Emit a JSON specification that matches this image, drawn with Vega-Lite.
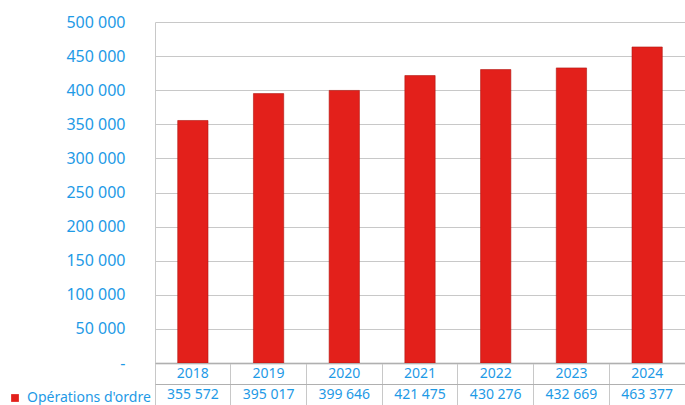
{
  "$schema": "https://vega.github.io/schema/vega-lite/v6.json",
  "padding": {"left": 8, "top": 14, "right": 0, "bottom": 0},
  "spacing": 0,
  "bounds": "flush",
  "config": {
    "font": "Noto Sans",
    "view": {"stroke": null},
    "locale": {"number": {"decimal": ",", "thousands": " ", "grouping": [3], "currency": ["", " €"]}}
  },
  "data": {
    "values": [
      {"annee": "2018", "valeur": 355572},
      {"annee": "2019", "valeur": 395017},
      {"annee": "2020", "valeur": 399646},
      {"annee": "2021", "valeur": 421475},
      {"annee": "2022", "valeur": 430276},
      {"annee": "2023", "valeur": 432669},
      {"annee": "2024", "valeur": 463377}
    ]
  },
  "vconcat": [
    {
      "width": 530,
      "height": 341,
      "mark": {"type": "bar", "stroke": "#b01510", "strokeWidth": 0.6},
      "encoding": {
        "x": {
          "field": "annee", "type": "nominal",
          "scale": {"paddingInner": 0.6, "paddingOuter": 0.3},
          "axis": {"labels": false, "ticks": false, "title": null, "domainColor": "#9a9a9a", "domainWidth": 1.5, "minExtent": 0, "maxExtent": 0, "labelPadding": 0}
        },
        "y": {
          "field": "valeur", "type": "quantitative",
          "scale": {"domain": [0, 500000]},
          "axis": {
            "values": [0, 50000, 100000, 150000, 200000, 250000, 300000, 350000, 400000, 450000, 500000],
            "labelExpr": "datum.value == 0 ? '-' : format(datum.value, ',d')",
            "labelFontSize": 16, "labelColor": "#1E9AE6", "labelPadding": 30,
            "ticks": false, "title": null,
            "domainColor": "#c8c8c8", "gridColor": "#c8c8c8", "gridWidth": 1
          }
        },
        "color": {
          "datum": "Opérations d'ordre",
          "scale": {"range": ["#E3201B"]},
          "legend": {
            "orient": "none", "legendX": -147, "legendY": 369, "title": null,
            "symbolType": "square", "symbolSize": 60, "symbolStrokeWidth": 0,
            "labelColor": "#1E9AE6", "labelFontSize": 14, "labelOffset": 5
          }
        }
      }
    },
    {
      "width": 530,
      "height": 42,
      "encoding": {
        "x": {
          "field": "annee", "type": "nominal",
          "scale": {"type": "band", "paddingInner": 0, "paddingOuter": 0},
          "axis": {"orient": "bottom", "labels": false, "ticks": false, "domain": false, "title": null, "grid": true, "bandPosition": 0, "gridColor": "#c8c8c8", "minExtent": 0, "maxExtent": 0, "labelPadding": 0}
        }
      },
      "layer": [
        {
          "mark": {"type": "text", "fontSize": 14, "color": "#1E9AE6"},
          "encoding": {
            "y": {"datum": "Année", "type": "nominal", "scale": {"type": "band", "domain": ["Année", "Valeur"], "paddingInner": 0, "paddingOuter": 0},
              "axis": {"labels": false, "ticks": false, "domain": false, "title": null, "grid": true, "bandPosition": 0, "gridColor": "#b0b0b0", "minExtent": 0, "maxExtent": 0, "labelPadding": 0}},
            "text": {"field": "annee"}
          }
        },
        {
          "mark": {"type": "text", "fontSize": 14, "color": "#1E9AE6"},
          "encoding": {
            "y": {"datum": "Valeur", "type": "nominal"},
            "text": {"field": "valeur", "type": "quantitative", "format": ",d"}
          }
        }
      ]
    }
  ]
}
